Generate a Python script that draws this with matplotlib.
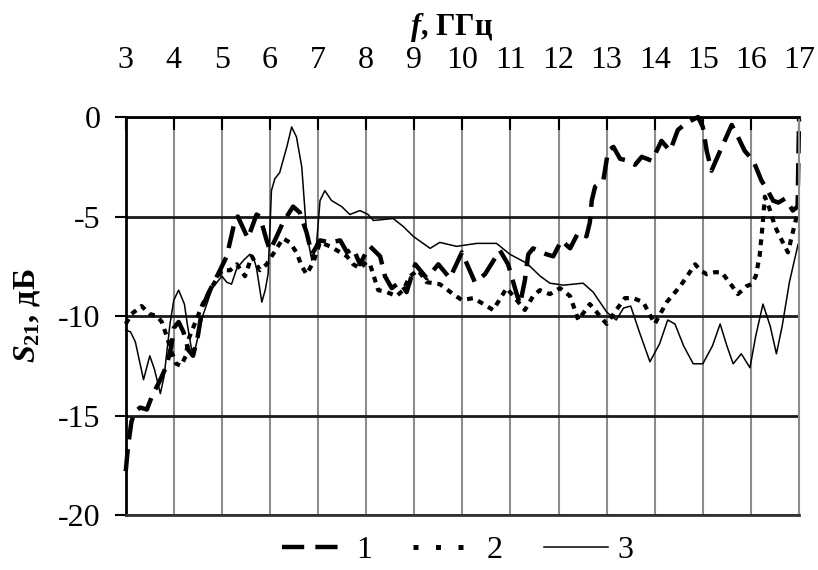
import matplotlib.pyplot as plt
from matplotlib.lines import Line2D

# частота, ГГц и S21, дБ для трёх кривых
f1 = [3.0, 3.05, 3.12, 3.2, 3.3, 3.44, 3.55, 3.7, 3.85, 3.95, 4.0, 4.1, 4.2, 4.3, 4.4, 4.5, 4.6, 4.75,
      4.96, 5.1, 5.27, 5.33, 5.54, 5.72, 5.79, 5.93, 6.0, 6.14, 6.27, 6.48, 6.62, 6.76, 6.87, 6.97, 7.04,
      7.25, 7.46, 7.6, 7.73, 7.87, 8.0, 8.08, 8.29, 8.39, 8.53, 8.7, 8.84, 9.02, 9.26, 9.5, 9.74, 9.99,
      10.26, 10.47, 10.78, 10.95, 11.13, 11.2, 11.3, 11.37, 11.47, 11.75, 11.89, 12.06, 12.24, 12.41,
      12.58, 12.65, 12.69, 12.76, 12.93, 13.03, 13.14, 13.28, 13.45, 13.59, 13.73, 13.94, 14.14, 14.32,
      14.48, 14.66, 14.9, 15.0, 15.08, 15.18, 15.36, 15.6, 15.73, 15.87, 16.05, 16.22, 16.35, 16.46,
      16.57, 16.71, 16.87, 16.97, 17.0]
s1 = [-17.8, -16.5, -15.3, -14.8, -14.6, -14.7, -14.0, -13.3, -12.5, -11.5, -10.6, -10.3, -10.8, -11.7,
      -12.0, -11.0, -9.5, -8.7, -7.7, -7.0, -5.2, -5.0, -6.1, -4.9, -5.0, -6.2, -6.7, -6.0, -5.3, -4.5,
      -4.8, -5.8, -6.9, -6.5, -6.2, -6.3, -6.2, -6.8, -6.6, -7.4, -6.8, -6.5, -7.0, -8.0, -8.6, -8.3,
      -8.8, -7.4, -8.1, -7.4, -8.1, -6.8, -8.3, -7.9, -6.7, -7.4, -8.9, -9.4, -8.2, -6.9, -6.6, -6.9,
      -7.0, -6.2, -6.6, -5.8, -6.0, -5.3, -4.2, -3.5, -3.2, -1.7, -1.5, -2.1, -2.2, -2.4, -2.0, -2.2,
      -1.2, -1.7, -0.65, -0.3, 0.0, -0.5, -1.7, -2.7, -1.7, -0.4, -1.0, -1.7, -2.2, -3.2, -3.7, -4.2,
      -4.3, -4.1, -4.7, -4.5, -0.1]

f2 = [3.0, 3.12, 3.33, 3.5, 3.65, 3.75, 3.85, 3.95, 4.05, 4.15, 4.25, 4.3, 4.45, 4.6, 4.8, 5.0, 5.17,
      5.31, 5.48, 5.62, 5.79, 5.93, 6.14, 6.27, 6.41, 6.55, 6.66, 6.76, 6.9, 7.04, 7.25, 7.46, 7.6,
      7.73, 7.87, 8.0, 8.08, 8.25, 8.43, 8.63, 8.77, 8.91, 9.08, 9.26, 9.53, 9.81, 9.99, 10.23, 10.44,
      10.64, 10.92, 11.13, 11.3, 11.47, 11.61, 11.82, 12.03, 12.24, 12.41, 12.65, 13.0, 13.2, 13.38,
      13.55, 13.76, 14.0, 14.25, 14.53, 14.7, 14.84, 14.95, 15.08, 15.25, 15.39, 15.55, 15.73, 15.91,
      16.01, 16.1, 16.18, 16.24, 16.29, 16.4, 16.5, 16.6, 16.77, 16.87, 16.97]
s2 = [-10.4, -9.9, -9.5, -9.9, -10.0, -10.3, -11.0, -11.8, -12.4, -12.5, -12.0, -11.2, -10.3, -9.4,
      -8.5, -7.7, -7.7, -7.4, -8.0, -7.0, -7.7, -7.4, -6.6, -6.1, -6.3, -6.8, -7.5, -7.9, -7.3, -6.3,
      -6.5, -6.8, -7.0, -7.4, -7.6, -7.3, -7.4, -8.7, -8.8, -9.0, -8.7, -8.0, -7.7, -8.3, -8.4, -8.9,
      -9.2, -9.1, -9.4, -9.7, -8.6, -9.2, -9.7, -9.0, -8.7, -8.9, -8.6, -9.0, -10.2, -9.4, -10.4, -9.7,
      -9.1, -9.1, -9.3, -10.4, -9.3, -8.5, -7.9, -7.4, -7.7, -7.9, -7.8, -7.8, -8.3, -8.9, -8.5, -8.4,
      -8.0, -7.0, -5.5, -4.0, -4.7, -5.5, -6.0, -6.8, -5.8, -4.8]

f3 = [3.0, 3.1, 3.2, 3.37, 3.5, 3.6, 3.72, 3.8, 3.92, 4.0, 4.1, 4.22, 4.28, 4.37, 4.45, 4.6, 4.8, 5.0,
      5.1, 5.2, 5.31, 5.45, 5.58, 5.65, 5.72, 5.83, 5.9, 5.96, 6.03, 6.1, 6.2, 6.35, 6.45, 6.55, 6.66,
      6.76, 6.87, 6.97, 7.04, 7.14, 7.28, 7.49, 7.66, 7.87, 8.04, 8.15, 8.56, 8.77, 8.98, 9.33, 9.53,
      9.88, 10.3, 10.71, 10.99, 11.34, 11.62, 11.82, 12.1, 12.51, 12.72, 13.0, 13.2, 13.35, 13.5, 13.68,
      13.9, 14.1, 14.27, 14.42, 14.6, 14.8, 15.0, 15.2, 15.36, 15.5, 15.63, 15.8, 15.98, 16.1, 16.25,
      16.4, 16.53, 16.65, 16.8, 16.98]
s3 = [-10.7, -10.8, -11.3, -13.2, -12.0, -12.7, -13.9, -13.0, -10.4, -9.2, -8.7, -9.4, -10.4, -11.7,
      -11.6, -10.0, -8.6, -8.0, -8.3, -8.4, -7.6, -7.2, -6.9, -7.0, -7.6, -9.3, -8.7, -7.9, -3.7, -3.1,
      -2.8, -1.5, -0.5, -1.0, -2.5, -5.8, -7.2, -6.3, -4.2, -3.7, -4.2, -4.5, -4.9, -4.7, -4.9, -5.2,
      -5.1, -5.5, -6.0, -6.6, -6.3, -6.5, -6.35, -6.35, -6.9, -7.35, -8.0, -8.35, -8.45, -8.35, -8.8,
      -9.8, -10.2, -9.6, -9.5, -10.8, -12.3, -11.4, -10.2, -10.4, -11.5, -12.4, -12.4, -11.5, -10.4,
      -11.5, -12.4, -11.9, -12.6, -11.0, -9.4, -10.5, -11.9, -10.5, -8.3, -6.4]

x_ticks = list(range(3, 18))
y_ticks = [0, -5, -10, -15, -20]
labels = ['1', '2', '3']

plt.rcParams['font.family'] = ['Liberation Serif', 'DejaVu Serif']
plt.rcParams['mathtext.fontset'] = 'custom'
plt.rcParams['mathtext.rm'] = 'Liberation Serif:bold'
plt.rcParams['mathtext.it'] = 'Liberation Serif:italic:bold'
plt.rcParams['mathtext.bf'] = 'Liberation Serif:bold'
plt.rcParams['axes.unicode_minus'] = False

fig = plt.figure(figsize=(8.18, 5.70), dpi=100)
ax = fig.add_axes([0.1537, 0.0965, 0.8231, 0.6982])

ax.plot(f1, s1, color='black', lw=3.2, dashes=(5, 2.2), clip_on=False)
ax.plot(f2, s2, color='black', lw=3.0, dashes=(1.4, 1.4), clip_on=False)
ax.plot(f3, s3, color='black', lw=1.1, clip_on=False)

ax.set_xlim(3, 17)
ax.set_ylim(-20, 0)
ax.set_xticks(x_ticks)
ax.set_yticks(y_ticks)
ax.xaxis.tick_top()
ax.tick_params(axis='x', direction='in', length=9, width=1.5, labelsize=23, pad=30)
ax.tick_params(axis='y', direction='out', length=8, width=1.5, labelsize=23, pad=10)

ax.xaxis.grid(True, color='#8c8c8c', lw=1.5)
ax.yaxis.grid(True, color='#1a1a1a', lw=2)
ax.set_axisbelow(True)
for side in ['left', 'top']:
    ax.spines[side].set_color('black')
    ax.spines[side].set_linewidth(2)
ax.spines['bottom'].set_color('#333333')
ax.spines['bottom'].set_linewidth(2)
ax.spines['right'].set_color('#8c8c8c')
ax.spines['right'].set_linewidth(1.5)

# подпись оси частот над подписями делений
fig.text(452 / 818, 1 - 27 / 570, r'$f$, ГГц', fontsize=22, fontweight='bold', ha='center', va='center')
ax.set_ylabel(r'$S_{21}$, дБ', fontsize=23, fontweight='bold')
ax.yaxis.set_label_coords(-0.125, 0.5)

# легенда: образцы линий как в исходнике
h1 = Line2D([], [], color='black', lw=3.2, dashes=(5, 2.5))
h2 = Line2D([], [], color='black', lw=3.6, dashes=(1, 3.5))
h3 = Line2D([], [], color='black', lw=1.1)
fig.legend([h1, h2, h3], labels, loc='center', bbox_to_anchor=(458 / 818, 1 - 550 / 570), ncol=3,
           frameon=False, fontsize=23, handlelength=2.0, handletextpad=0.3, columnspacing=1.3)

fig.savefig('out.png', dpi=100)
